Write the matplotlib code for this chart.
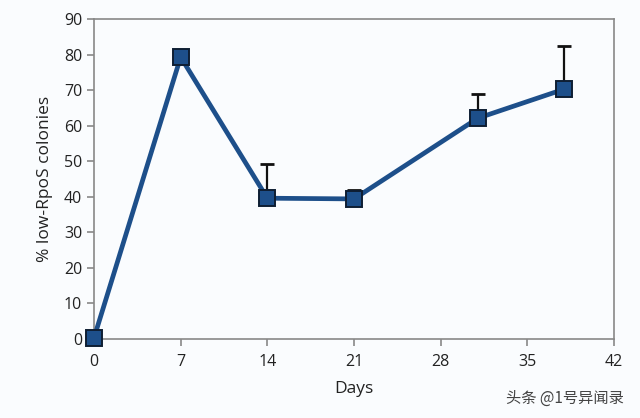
import matplotlib
matplotlib.use("Agg")
import matplotlib.pyplot as plt

days = [0, 7, 14, 21, 31, 38]
values = [0.3, 79.3, 39.6, 39.4, 62.1, 70.3]
err_upper = [0, 0, 9.6, 2.5, 6.8, 12.1]
xticks = [0, 7, 14, 21, 28, 35, 42]
yticks = [0, 10, 20, 30, 40, 50, 60, 70, 80, 90]

plt.rcParams['font.family'] = ['Open Sans', 'DejaVu Sans']
fig = plt.figure(figsize=(6.4, 4.18), dpi=100, facecolor='#fafcfe')
ax = fig.add_axes([94/640, 1-339/418, (614-94)/640, (339-19)/418])
ax.set_facecolor('#fafcfe')

ax.errorbar(days, values, yerr=[[0]*len(days), err_upper], fmt='none',
            ecolor='#111111', elinewidth=1.6, capsize=5, capthick=2, zorder=2)
line, = ax.plot(days, values, color='#1d4f8a', lw=3.4, marker='s', markersize=12,
                markerfacecolor='#1d4f8a', markeredgecolor='#0e1e33', markeredgewidth=1.4,
                zorder=3, clip_on=False, solid_joinstyle='round')
line.set_markeredgecolor('#0e1e33')

ax.set_xlim(0, 42)
ax.set_ylim(0, 90)
ax.set_xticks(xticks)
ax.set_yticks(yticks)
for s in ax.spines.values():
    s.set_color('#888888')
    s.set_linewidth(1.2)
ax.tick_params(colors='#888888', labelcolor='#222222', labelsize=11.5, length=5, width=1.2, direction='out')
ax.tick_params(axis='x', pad=6)
ax.set_xlabel('Days', fontsize=12.5, color='#222222', labelpad=8)
ax.set_ylabel('% low-RpoS colonies', fontsize=12.5, color='#222222', labelpad=8)

fig.text(565/640, 1-398/418, '头条 @1号异闻录', ha='center', va='center', fontsize=11,
         color='#444444', family=['Noto Sans CJK SC', 'DejaVu Sans'])

fig.savefig('out.png', dpi=100, facecolor=fig.get_facecolor())
